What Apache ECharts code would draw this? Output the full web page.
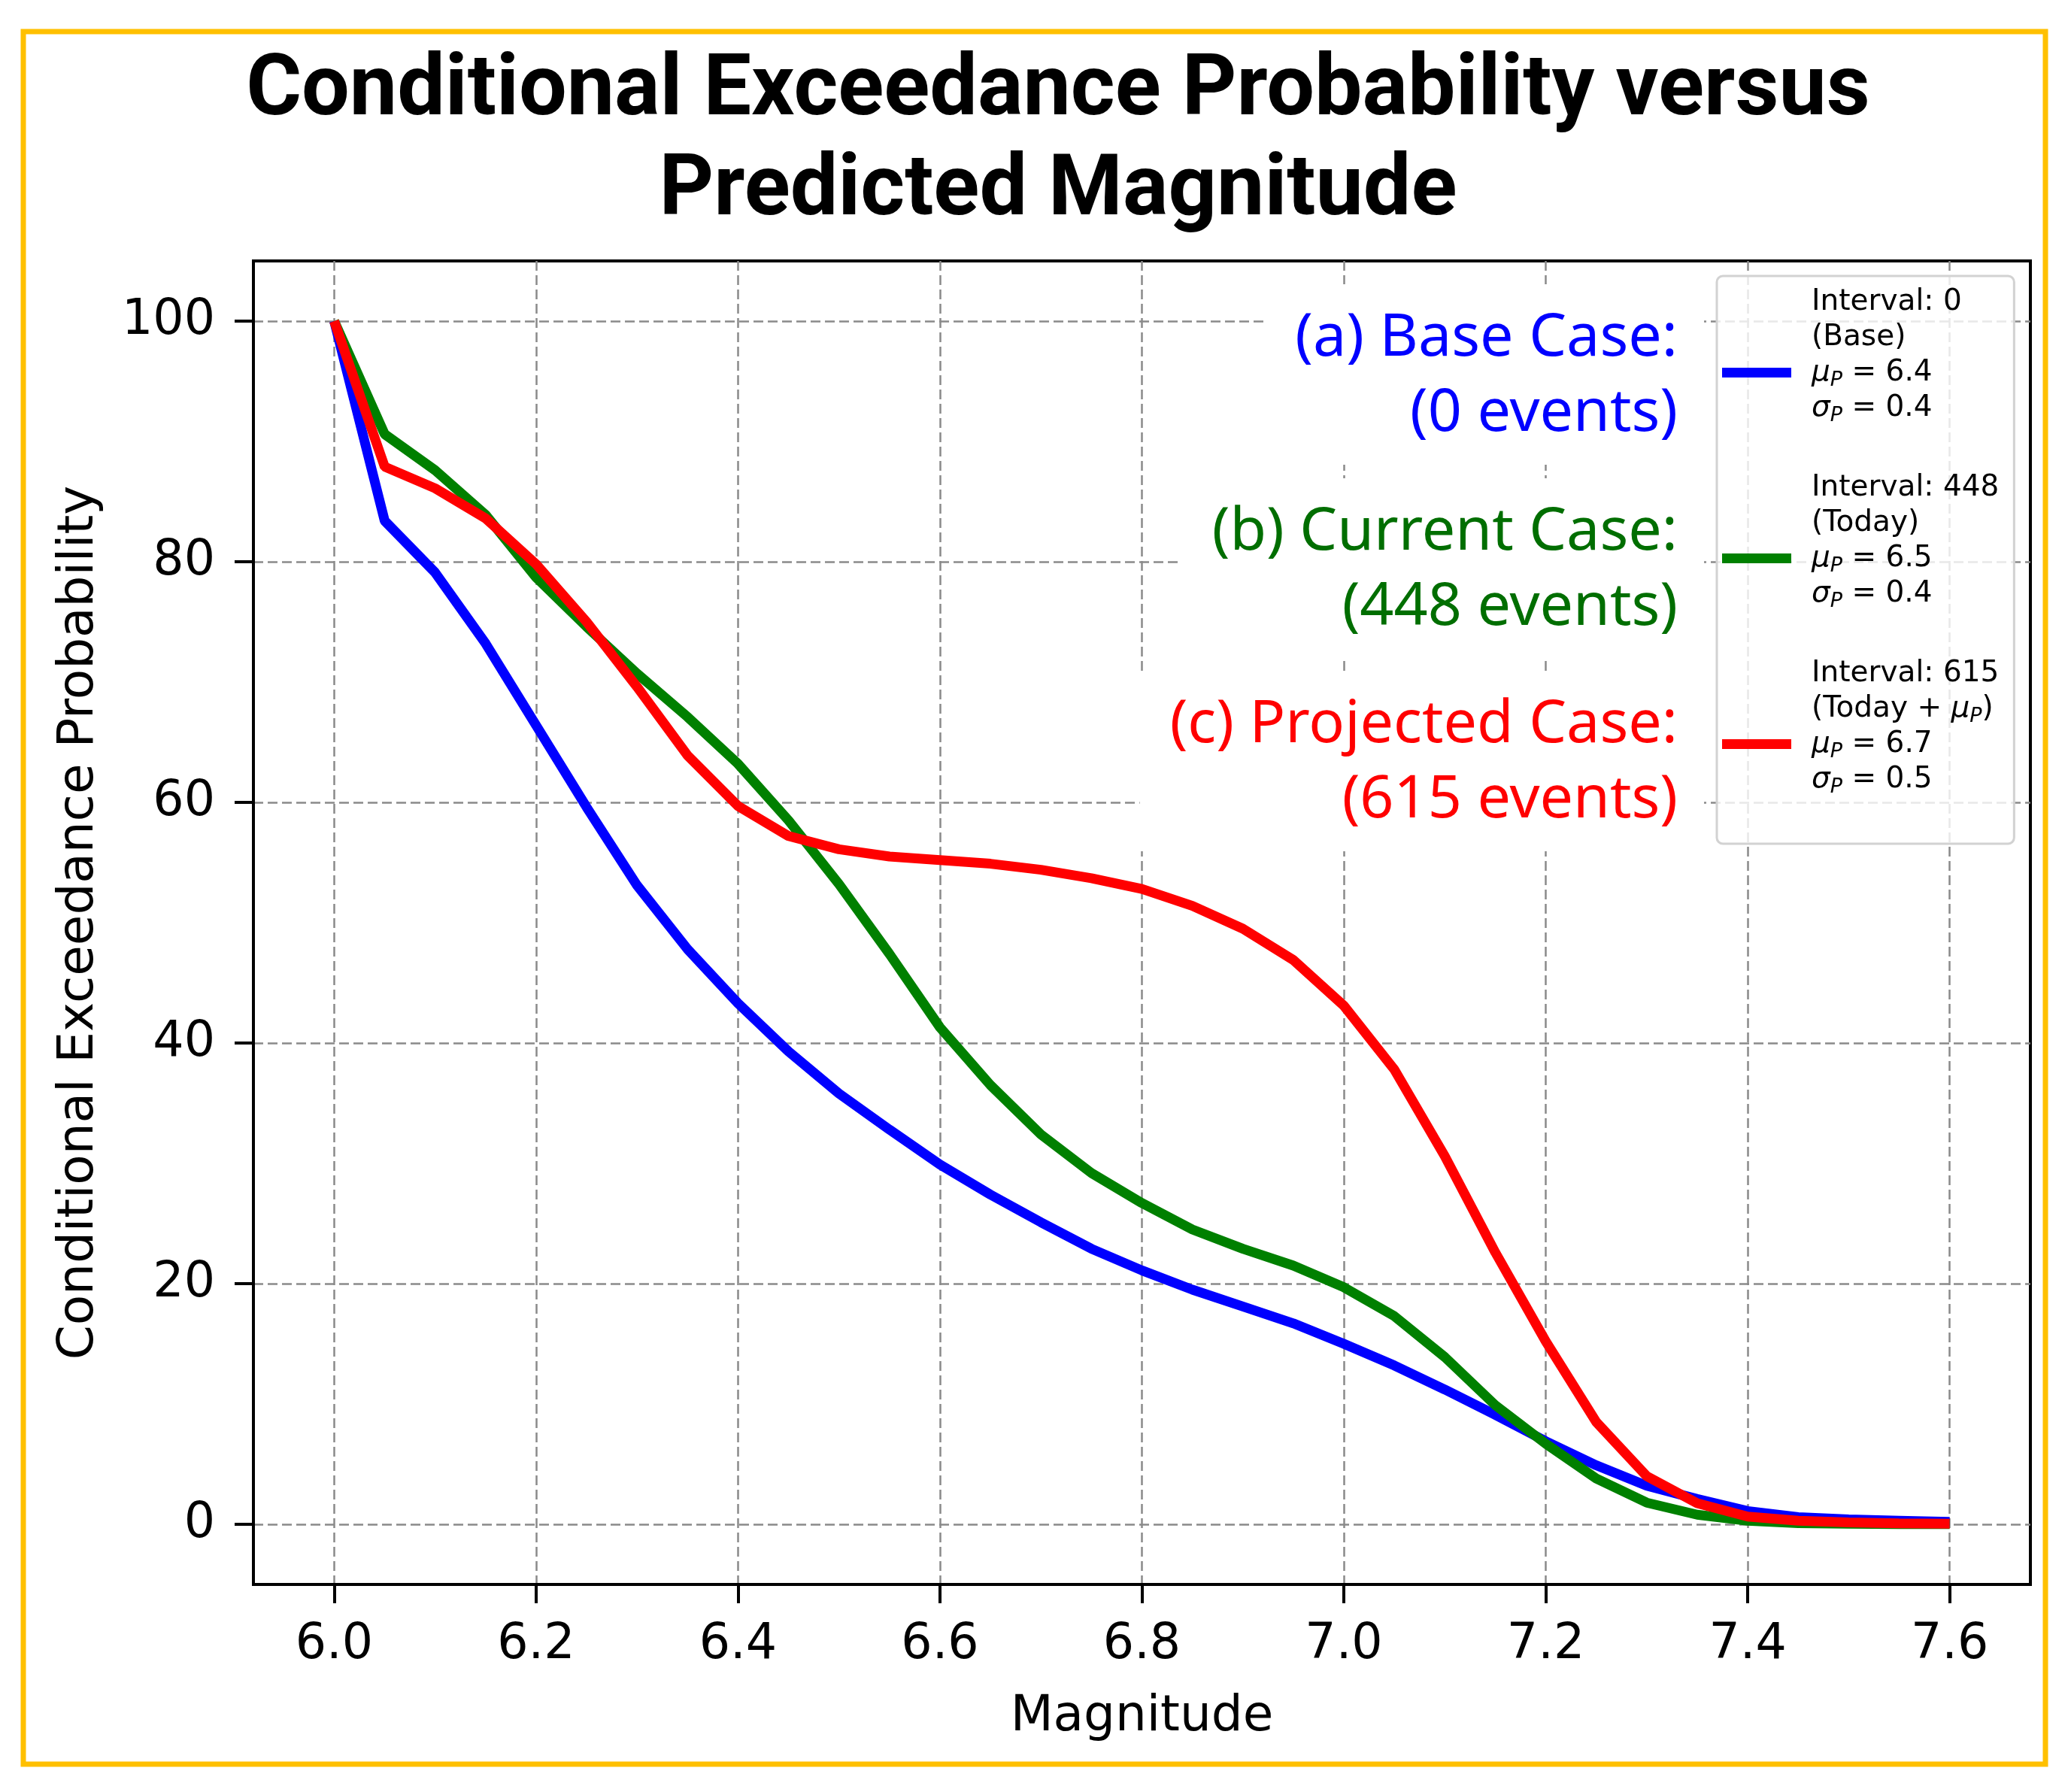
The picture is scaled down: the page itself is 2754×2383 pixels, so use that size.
<!DOCTYPE html>
<html>
<head>
<meta charset="utf-8">
<script src="https://cdn.jsdelivr.net/npm/echarts@6/dist/echarts.min.js"></script>
<style>
  html, body { margin: 0; padding: 0; background: #ffffff; }
  #chart { width: 2754px; height: 2383px; }
</style>
</head>
<body>
<div id="chart"></div>
<script>
// ---------------- data ----------------
const chartTitle = 'Conditional Exceedance Probability versus\nPredicted Magnitude';
const xAxisName = 'Magnitude';
const yAxisName = 'Conditional Exceedance Probability';

const magnitudes = [6.0, 6.05, 6.1, 6.15, 6.2, 6.25, 6.3, 6.35, 6.4, 6.45, 6.5, 6.55, 6.6, 6.65, 6.7, 6.75, 6.8,
                    6.85, 6.9, 6.95, 7.0, 7.05, 7.1, 7.15, 7.2, 7.25, 7.3, 7.35, 7.4, 7.45, 7.5, 7.55, 7.6];

const baseCase = [100, 83.4, 79.1, 73.2, 66.4, 59.6, 53.1, 47.8, 43.3, 39.3, 35.8, 32.8, 29.9, 27.4, 25.1, 22.9, 21.1,
                  19.5, 18.1, 16.7, 15.0, 13.2, 11.2, 9.1, 6.9, 4.9, 3.2, 2.1, 1.1, 0.6, 0.4, 0.3, 0.2];

const currentCase = [100, 90.6, 87.6, 83.9, 78.7, 74.6, 70.7, 67.1, 63.2, 58.5, 53.2, 47.4, 41.3, 36.5, 32.4, 29.2, 26.7,
                     24.5, 22.9, 21.5, 19.7, 17.3, 13.9, 9.9, 6.7, 3.8, 1.8, 0.8, 0.3, 0.1, 0.05, 0.02, 0.01];

const projectedCase = [100, 87.9, 86.1, 83.6, 79.8, 75.0, 69.6, 63.9, 59.7, 57.2, 56.1, 55.5, 55.2, 54.9, 54.4, 53.7, 52.8,
                       51.4, 49.5, 46.9, 43.1, 37.8, 30.6, 22.6, 15.2, 8.5, 4.0, 1.75, 0.64, 0.3, 0.15, 0.08, 0.05];

const xTicks = [6.0, 6.2, 6.4, 6.6, 6.8, 7.0, 7.2, 7.4, 7.6];
const yTicks = [0, 20, 40, 60, 80, 100];

const seriesNames = ['Interval: 0 (Base)', 'Interval: 448 (Today)', 'Interval: 615 (Today + muP)'];
const seriesColors = ['#0000FF', '#008000', '#FF0000'];
const legendLabels = [
  'Interval: 0\n(Base)\n{mi|μ}{sub|P} = 6.4\n{mi|σ}{sub|P} = 0.4\n\u00a0',
  'Interval: 448\n(Today)\n{mi|μ}{sub|P} = 6.5\n{mi|σ}{sub|P} = 0.4\n\u00a0',
  'Interval: 615\n(Today + {mi|μ}{sub|P})\n{mi|μ}{sub|P} = 6.7\n{mi|σ}{sub|P} = 0.5\n\u00a0'
];
const caseLabels = ['(a) Base Case:\n(0 events)', '(b) Current Case:\n(448 events)', '(c) Projected Case:\n(615 events)'];
const caseColors = ['#0000FF', '#006e00', '#FF0000'];

// ---------------- chart ----------------
const chart = echarts.init(document.getElementById('chart'), null, { renderer: 'canvas' });

const seriesData = [baseCase, currentCase, projectedCase];
const series = seriesData.map((vals, i) => ({
  name: seriesNames[i],
  type: 'line',
  data: magnitudes.map((m, k) => [m, vals[k]]),
  showSymbol: false,
  symbol: 'none',
  color: seriesColors[i],
  lineStyle: { width: 13, color: seriesColors[i] },
  z: 3 + i
}));

const caseTops = [378, 636, 892];
const caseGraphics = caseLabels.map((t, i) => ({
  type: 'text',
  z: 1,
  x: 2266,
  y: caseTops[i],
  style: {
    text: t,
    align: 'right',
    verticalAlign: 'top',
    fill: caseColors[i],
    fontSize: 79,
    fontFamily: 'Noto Sans',
    lineHeight: 100,
    backgroundColor: '#ffffff',
    padding: [22, 35, 18, 40]
  }
}));

const axisFont = 'DejaVu Sans';

const option = {
  animation: false,
  backgroundColor: '#ffffff',
  title: {
    text: chartTitle,
    left: 1407,
    top: 57,
    padding: 0,
    textAlign: 'center',
    textStyle: {
      fontFamily: 'Roboto',
      fontWeight: 'bold',
      fontSize: 113,
      lineHeight: 133,
      color: '#000000'
    }
  },
  grid: {
    left: 337,
    right: 54,
    top: 347,
    bottom: 276,
    show: true,
    borderColor: '#000000',
    borderWidth: 4,
    backgroundColor: 'transparent',
    containLabel: false
  },
  legend: {
    data: seriesNames,
    orient: 'vertical',
    left: 2283,
    top: 367,
    icon: 'rect',
    itemWidth: 92,
    itemHeight: 13,
    itemGap: 12,
    padding: [11, 20, 15, 7],
    backgroundColor: 'rgba(255,255,255,0.8)',
    borderColor: '#d2d2d2',
    borderWidth: 3,
    borderRadius: 8,
    selectedMode: false,
    formatter: function (name) { return legendLabels[seriesNames.indexOf(name)]; },
    textStyle: {
      fontFamily: axisFont,
      fontSize: 39,
      lineHeight: 47,
      color: '#000000',
      padding: [0, 0, 0, 22],
      rich: {
        mi: { fontFamily: axisFont, fontStyle: 'italic', fontSize: 39, color: '#000000' },
        sub: { fontFamily: axisFont, fontStyle: 'italic', fontSize: 27, lineHeight: 30, verticalAlign: 'bottom', color: '#000000' }
      }
    }
  },
  xAxis: {
    type: 'value',
    min: 5.92,
    max: 7.68,
    name: xAxisName,
    nameLocation: 'middle',
    nameGap: 144,
    nameTextStyle: { fontFamily: axisFont, fontSize: 66, color: '#000000' },
    axisLine: { show: true, onZero: false, lineStyle: { color: '#000000', width: 4 } },
    axisTick: { show: true, length: 25, customValues: xTicks, lineStyle: { color: '#000000', width: 4 } },
    axisLabel: {
      customValues: xTicks,
      margin: 49,
      fontFamily: axisFont,
      fontSize: 65,
      color: '#000000',
      formatter: function (v) { return Number(v).toFixed(1); }
    },
    splitLine: { show: true, lineStyle: { color: '#8a8a8a', width: 2.5, type: [13, 6] } }
  },
  yAxis: {
    type: 'value',
    min: -5,
    max: 105,
    name: yAxisName,
    nameLocation: 'middle',
    nameGap: 198,
    nameRotate: 90,
    nameTextStyle: { fontFamily: axisFont, fontSize: 66, color: '#000000' },
    axisLine: { show: true, onZero: false, lineStyle: { color: '#000000', width: 4 } },
    axisTick: { show: true, length: 25, customValues: yTicks, lineStyle: { color: '#000000', width: 4 } },
    axisLabel: {
      customValues: yTicks,
      margin: 51,
      fontFamily: axisFont,
      fontSize: 65,
      color: '#000000',
      formatter: function (v) { return String(Math.round(v)); }
    },
    splitLine: { show: true, lineStyle: { color: '#8a8a8a', width: 2.5, type: [13, 6] } }
  },
  graphic: [
    {
      type: 'rect',
      z: 10,
      shape: { x: 31, y: 42, width: 2689, height: 2304 },
      style: { fill: 'none', stroke: '#FFC000', lineWidth: 7 }
    }
  ].concat(caseGraphics),
  series: series
};

chart.setOption(option);
</script>
</body>
</html>
